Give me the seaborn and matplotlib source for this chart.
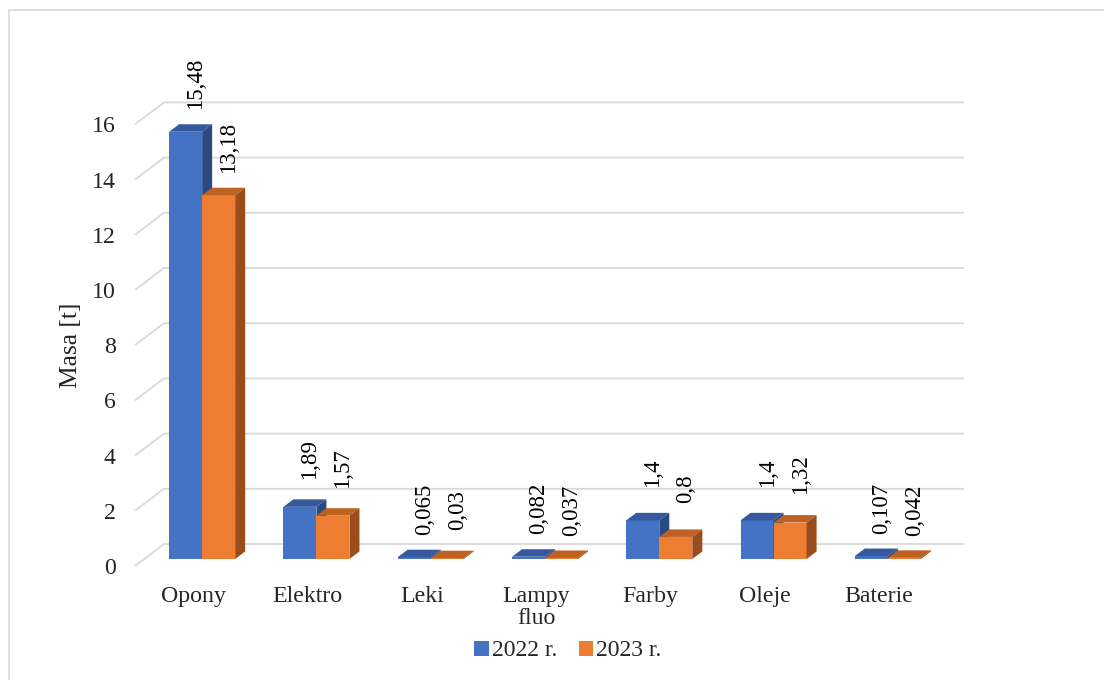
import numpy as np
import pandas as pd
import matplotlib
matplotlib.use("Agg")
import matplotlib.pyplot as plt
import matplotlib.transforms as mtransforms
from matplotlib.patches import Polygon, Rectangle, Patch
import seaborn as sns

# ---- data ----
categories = ["Opony", "Elektro", "Leki", "Lampy\nfluo", "Farby", "Oleje", "Baterie"]
values_2022 = [15.48, 1.89, 0.065, 0.082, 1.4, 1.4, 0.107]
values_2023 = [13.18, 1.57, 0.03, 0.037, 0.8, 1.32, 0.042]
series_names = ["2022 r.", "2023 r."]
y_ticks = [0, 2, 4, 6, 8, 10, 12, 14, 16]

front_colors = ["#4472C4", "#ED7D31"]
top_colors = ["#35599C", "#BE6224"]
side_colors = ["#2C4A82", "#9A4D1C"]
grid_color = "#D9D9D9"

df = pd.DataFrame({
    "kategoria": categories * 2,
    "masa": values_2022 + values_2023,
    "rok": [series_names[0]] * len(categories) + [series_names[1]] * len(categories),
})

sns.set_style("white")
plt.rcParams["font.family"] = ["Liberation Serif", "DejaVu Serif"]
FS_LAB = 16.5
FS_TICK = 17.2
FS_LEG = 17.0
FS_YLAB = 18.4

W, H = 1104, 680
fig = plt.figure(figsize=(W / 100, H / 100), dpi=100)

# layout in pixels (bar front plane)
ax_left, ax_right = 145, 945
ax_bottom = 559
ppy = 27.6
ymax = 19.0
ax_top = ax_bottom - ymax * ppy
ax = fig.add_axes([ax_left / W, 1 - ax_bottom / H, (ax_right - ax_left) / W, (ax_bottom - ax_top) / H])
ax.set_xlim(-0.5, len(categories) - 0.5)
ax.set_ylim(0, ymax)
ppx = (ax_right - ax_left) / len(categories)

def px2dx(p):
    return p / ppx

def px2dy(p):
    return p / ppy

# back wall grid + floor slant
back_dx, back_dy = px2dx(19), px2dy(15)
front_dx, front_dy = px2dx(-10), px2dy(-7)
x0, x1 = -0.5, len(categories) - 0.5
for v in y_ticks:
    ax.plot([x0 + front_dx, x0 + back_dx, x1 + back_dx],
            [v + front_dy, v + back_dy, v + back_dy],
            color=grid_color, lw=1.3, clip_on=False, zorder=0, solid_capstyle="butt")

sns.barplot(data=df, x="kategoria", y="masa", hue="rok", order=categories,
            hue_order=series_names, palette=front_colors, saturation=1,
            width=0.578, ax=ax, legend=False, edgecolor="none", linewidth=0)

# 3D faces
ddx, ddy = px2dx(10), px2dy(7.5)
for ci, cont in enumerate(ax.containers):
    for bar in cont:
        bx = bar.get_x()
        bw = bar.get_width()
        bh = bar.get_height()
        bar.set_zorder(2 + ci * 3)
        top = Polygon([[bx, bh], [bx + bw, bh], [bx + bw + ddx, bh + ddy], [bx + ddx, bh + ddy]],
                      closed=True, facecolor=top_colors[ci], edgecolor="none", zorder=3 + ci * 3)
        side = Polygon([[bx + bw, 0], [bx + bw + ddx, ddy], [bx + bw + ddx, bh + ddy], [bx + bw, bh]],
                       closed=True, facecolor=side_colors[ci], edgecolor="none", zorder=3 + ci * 3)
        ax.add_patch(top)
        ax.add_patch(side)
        label = f"{bh:g}".replace(".", ",")
        ax.annotate(label, xy=(bx + bw / 2, bh), xytext=(10 * 0.72, 48 * 0.72),
                    textcoords="offset points", rotation=90, ha="center", va="center",
                    fontsize=FS_LAB, color="black", annotation_clip=False, zorder=10)

# axes styling
for s in ax.spines.values():
    s.set_visible(False)
ax.set_xlabel("")
ax.set_ylabel("")
ax.set_yticks(y_ticks)
ax.set_yticklabels([str(v) for v in y_ticks], fontsize=FS_TICK)
ax.tick_params(axis="y", length=0, pad=29 * 0.72)
ax.tick_params(axis="x", length=0, pad=27 * 0.72)
ax.set_xticks(range(len(categories)))
ax.set_xticklabels(categories, fontsize=FS_TICK, linespacing=1.05)
for lab in ax.get_yticklabels():
    lab.set_transform(lab.get_transform() + mtransforms.ScaledTranslation(0, -7 / 100, fig.dpi_scale_trans))
for lab in ax.get_xticklabels():
    lab.set_transform(lab.get_transform() + mtransforms.ScaledTranslation(-9 / 100, 0, fig.dpi_scale_trans))
ax.grid(False)

fig.text(71 / W, 1 - 345 / H, "Masa [t]", rotation=90, ha="center", va="center", fontsize=FS_YLAB)

handles = [Patch(facecolor=c, edgecolor="none") for c in front_colors]
fig.legend(handles, series_names, loc="center", bbox_to_anchor=(568 / W, 1 - 651 / H),
           ncol=2, frameon=False, fontsize=FS_LEG, handlelength=0.6, handleheight=0.6,
           handletextpad=0.15, columnspacing=0.9, borderpad=0)

# outer chart border
fig.patches.append(Rectangle((9 / W, -0.2), 1.2, (1 - 10 / H) + 0.2, transform=fig.transFigure,
                             fill=False, edgecolor=grid_color, linewidth=1.2))

fig.savefig("out.png", dpi=100)
